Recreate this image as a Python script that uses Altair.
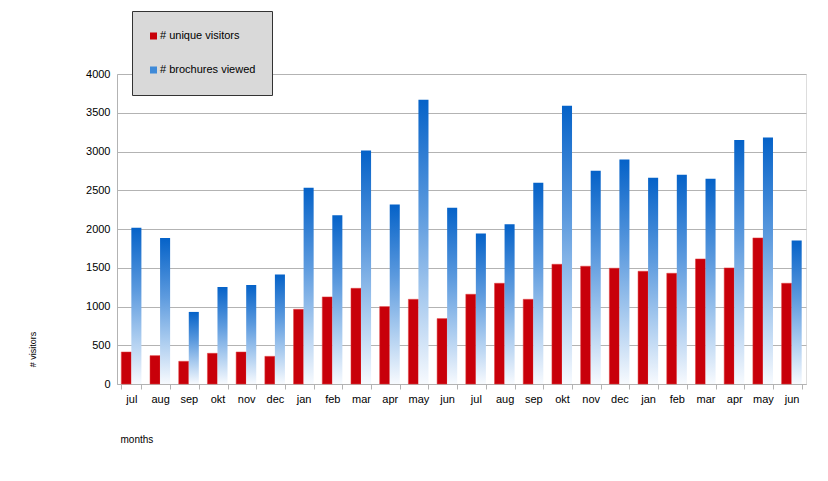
import altair as alt
import pandas as pd

months = ["jul", "aug", "sep", "okt", "nov", "dec", "jan", "feb", "mar", "apr", "may", "jun",
          "jul", "aug", "sep", "okt", "nov", "dec", "jan", "feb", "mar", "apr", "may", "jun"]
unique_visitors = [413, 366, 293, 396, 413, 357, 964, 1124, 1235, 999, 1093, 844,
                   1158, 1300, 1093, 1545, 1520, 1494, 1455, 1429, 1614, 1498, 1885, 1300]
brochures_viewed = [2015, 1885, 930, 1253, 1279, 1412, 2531, 2178, 3013, 2316, 3668, 2273,
                    1941, 2062, 2596, 3590, 2751, 2897, 2660, 2699, 2647, 3147, 3181, 1851]
series_names = ["# unique visitors", "# brochures viewed"]

keys = [f"{i:02d}" for i in range(len(months))]
rows = []
for k, u, b in zip(keys, unique_visitors, brochures_viewed):
    rows.append({"key": k, "series": series_names[0], "value": u})
    rows.append({"key": k, "series": series_names[1], "value": b})
df = pd.DataFrame(rows)

label_array = "[" + ",".join(f"'{m}'" for m in months) + "]"
FONT = "Liberation Sans"

x_enc = alt.X(
    "key:N",
    sort=keys,
    scale=alt.Scale(paddingInner=0.3, paddingOuter=0.15),
    axis=alt.Axis(
        title="months",
        labelExpr=f"{label_array}[toNumber(datum.value)]",
        labelAngle=0,
        tickBand="extent",
        tickSize=5,
        tickColor="#b3b3b3",
        domainColor="#b3b3b3",
        labelFontSize=11,
        labelColor="#000000",
        labelPadding=4,
        titleFontSize=10,
        titleFontWeight="normal",
        titleColor="#000000",
        titleAnchor="start",
        titleAlign="left",
        titleX=3,
        titleY=55,
        titleBaseline="middle",
        grid=False,
    ),
)
xoff = alt.XOffset("series:N", sort=series_names,
                   scale=alt.Scale(domain=series_names, paddingInner=0, paddingOuter=0))
y_enc = alt.Y(
    "value:Q",
    scale=alt.Scale(domain=[0, 4000], nice=False),
    axis=alt.Axis(
        title="# visitors",
        values=list(range(0, 4001, 500)),
        format="d",
        tickSize=0,
        labelPadding=7,
        labelFontSize=11,
        labelColor="#000000",
        domainColor="#b3b3b3",
        gridColor="#b3b3b3",
        titleFontSize=9,
        titleFontWeight="normal",
        titleColor="#000000",
        titleX=-85,
        titleY=275,
        titleAngle=-90,
        titleAlign="center",
        titleBaseline="middle",
    ),
)

base = alt.Chart(df)

red = base.transform_filter(alt.datum.series == series_names[0]).mark_bar(
    stroke="#e04040", strokeWidth=0.5
).encode(
    x=x_enc,
    xOffset=xoff,
    y=y_enc,
    color=alt.Color(
        "series:N",
        scale=alt.Scale(domain=series_names, range=["#c8000a", "#3f8ad8"]),
        legend=alt.Legend(
            title=None,
            orient="none",
            legendX=15,
            legendY=-63,
            direction="vertical",
            fillColor="#d9d9d9",
            strokeColor="#333333",
            padding=16,
            rowPadding=16,
            clipHeight=18,
            symbolType="square",
            symbolSize=49,
            symbolStrokeWidth=0,
            labelFontSize=11,
            labelColor="#000000",
            labelOffset=1,
        ),
    ),
)

blue_gradient = alt.Gradient(
    gradient="linear",
    stops=[
        alt.GradientStop(color="#0562c8", offset=0),
        alt.GradientStop(color="#5c9ade", offset=0.4),
        alt.GradientStop(color="#a9cbef", offset=0.7),
        alt.GradientStop(color="#f7fafe", offset=1),
    ],
    x1=0, x2=0, y1=0, y2=1,
)

blue = base.transform_filter(alt.datum.series == series_names[1]).mark_bar(
    fill=blue_gradient
).encode(
    x=x_enc,
    xOffset=xoff,
    y=y_enc,
)

chart = alt.layer(red, blue).properties(
    width=689,
    height=310,
    autosize=alt.AutoSizeParams(type="none"),
    padding={"left": 109, "top": 66, "right": 14, "bottom": 89},
    background="#ffffff",
).configure_view(
    stroke="#b3b3b3", strokeWidth=1
).configure(font=FONT)

chart.save("out.html", embed_options={"renderer": "svg", "actions": False})
